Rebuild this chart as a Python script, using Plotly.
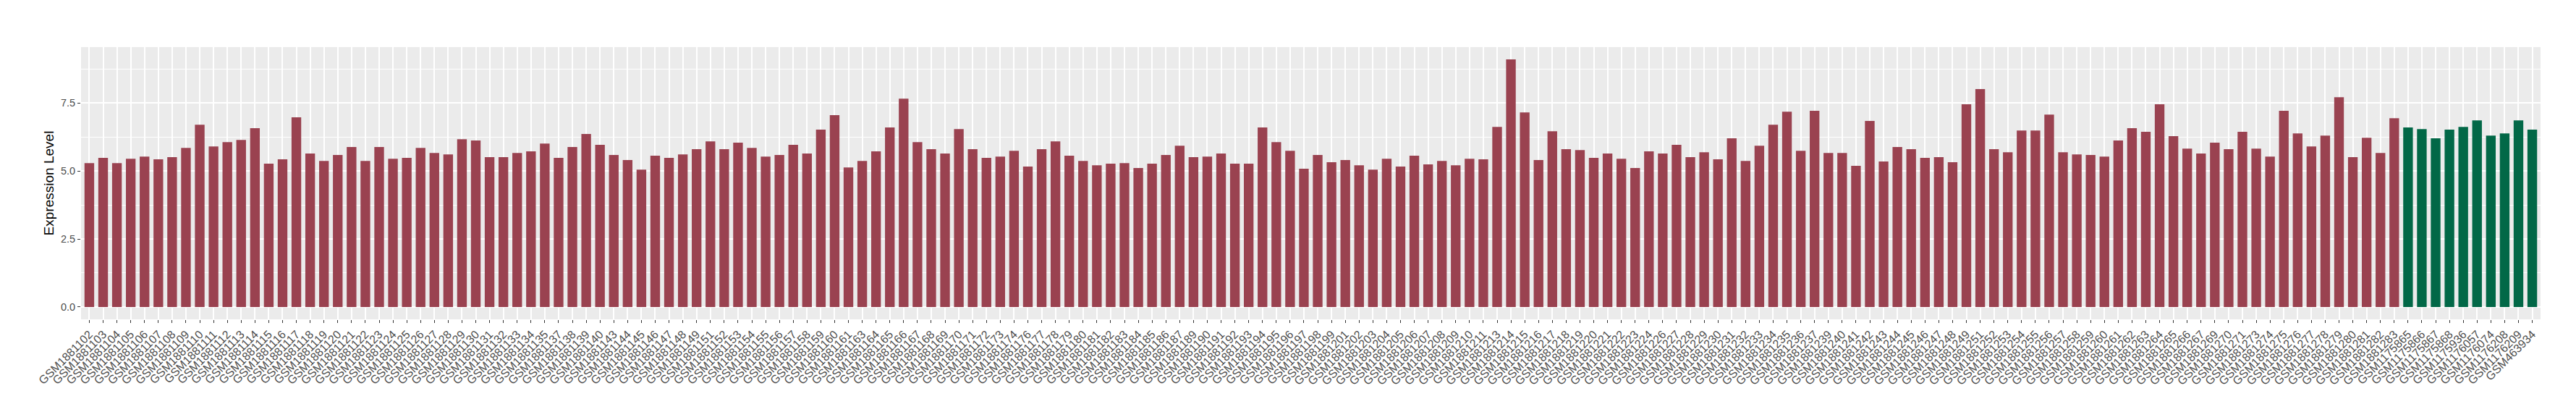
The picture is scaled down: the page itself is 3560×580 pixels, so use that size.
import plotly.graph_objects as go

# sample ids along the x axis (left to right)
samples = [
    "GSM1881102", "GSM1881103", "GSM1881104", "GSM1881105", "GSM1881106", "GSM1881107", "GSM1881108",
    "GSM1881109", "GSM1881110", "GSM1881111", "GSM1881112", "GSM1881113", "GSM1881114", "GSM1881115",
    "GSM1881116", "GSM1881117", "GSM1881118", "GSM1881119", "GSM1881120", "GSM1881121", "GSM1881122",
    "GSM1881123", "GSM1881124", "GSM1881125", "GSM1881126", "GSM1881127", "GSM1881128", "GSM1881129",
    "GSM1881130", "GSM1881131", "GSM1881132", "GSM1881133", "GSM1881134", "GSM1881135", "GSM1881137",
    "GSM1881138", "GSM1881139", "GSM1881140", "GSM1881143", "GSM1881144", "GSM1881145", "GSM1881146",
    "GSM1881147", "GSM1881148", "GSM1881149", "GSM1881151", "GSM1881152", "GSM1881153", "GSM1881154",
    "GSM1881155", "GSM1881156", "GSM1881157", "GSM1881158", "GSM1881159", "GSM1881160", "GSM1881161",
    "GSM1881163", "GSM1881164", "GSM1881165", "GSM1881166", "GSM1881167", "GSM1881168", "GSM1881169",
    "GSM1881170", "GSM1881171", "GSM1881172", "GSM1881173", "GSM1881174", "GSM1881176", "GSM1881177",
    "GSM1881178", "GSM1881179", "GSM1881180", "GSM1881181", "GSM1881182", "GSM1881183", "GSM1881184",
    "GSM1881185", "GSM1881186", "GSM1881187", "GSM1881189", "GSM1881190", "GSM1881191", "GSM1881192",
    "GSM1881193", "GSM1881194", "GSM1881195", "GSM1881196", "GSM1881197", "GSM1881198", "GSM1881199",
    "GSM1881201", "GSM1881202", "GSM1881203", "GSM1881204", "GSM1881205", "GSM1881206", "GSM1881207",
    "GSM1881208", "GSM1881209", "GSM1881210", "GSM1881211", "GSM1881213", "GSM1881214", "GSM1881215",
    "GSM1881216", "GSM1881217", "GSM1881218", "GSM1881219", "GSM1881220", "GSM1881221", "GSM1881222",
    "GSM1881223", "GSM1881224", "GSM1881226", "GSM1881227", "GSM1881228", "GSM1881229", "GSM1881230",
    "GSM1881231", "GSM1881232", "GSM1881233", "GSM1881234", "GSM1881235", "GSM1881236", "GSM1881237",
    "GSM1881239", "GSM1881240", "GSM1881241", "GSM1881242", "GSM1881243", "GSM1881244", "GSM1881245",
    "GSM1881246", "GSM1881247", "GSM1881248", "GSM1881249", "GSM1881251", "GSM1881252", "GSM1881253",
    "GSM1881254", "GSM1881255", "GSM1881256", "GSM1881257", "GSM1881258", "GSM1881259", "GSM1881260",
    "GSM1881261", "GSM1881262", "GSM1881263", "GSM1881264", "GSM1881265", "GSM1881266", "GSM1881267",
    "GSM1881269", "GSM1881270", "GSM1881271", "GSM1881273", "GSM1881274", "GSM1881275", "GSM1881276",
    "GSM1881277", "GSM1881278", "GSM1881279", "GSM1881280", "GSM1881281", "GSM1881282", "GSM1881283",
    "GSM1175865", "GSM1175866", "GSM1175867", "GSM1175868", "GSM1175936", "GSM1176057", "GSM1176074",
    "GSM1176208", "GSM1176209", "GSM463934",
]

expression = [
    5.29, 5.48, 5.29, 5.45, 5.53, 5.43, 5.51, 5.85, 6.70, 5.90, 6.06, 6.14, 6.57, 5.27, 5.43, 6.97,
    5.64, 5.37, 5.59, 5.88, 5.37, 5.88, 5.45, 5.48, 5.85,
    5.66, 5.61, 6.17, 6.12, 5.51, 5.51, 5.66, 5.72, 6.01, 5.48, 5.88, 6.36, 5.96, 5.59, 5.40, 5.05,
    5.56, 5.48, 5.61, 5.80, 6.09, 5.80, 6.04, 5.85, 5.53,
    5.59, 5.96, 5.64, 6.52, 7.05, 5.13, 5.37, 5.72, 6.60, 7.66, 6.06, 5.80, 5.64, 6.54, 5.80, 5.48,
    5.53, 5.74, 5.16, 5.80, 6.09, 5.56, 5.37, 5.21, 5.27, 5.29,
    5.11, 5.27, 5.59, 5.93, 5.51, 5.53, 5.64, 5.27, 5.27, 6.60, 6.06, 5.74, 5.08, 5.59, 5.32, 5.40,
    5.21, 5.05, 5.45, 5.16, 5.56, 5.24, 5.37, 5.21, 5.45,
    5.43, 6.62, 9.10, 7.15, 5.40, 6.46, 5.80, 5.77, 5.48, 5.64, 5.45, 5.11, 5.72, 5.64, 5.96, 5.51,
    5.69, 5.43, 6.20, 5.37, 5.93, 6.70, 7.18, 5.74, 7.21, 5.66,
    5.66, 5.19, 6.84, 5.35, 5.88, 5.80, 5.48, 5.51, 5.32, 7.45, 8.01, 5.80, 5.69, 6.49, 6.49, 7.07,
    5.69, 5.61, 5.59, 5.53, 6.12, 6.57, 6.44, 7.45, 6.28,
    5.82, 5.64, 6.04, 5.80, 6.44, 5.82, 5.53, 7.21, 6.38, 5.90, 6.30, 7.71, 5.51, 6.22, 5.66, 6.94,
    6.60, 6.54, 6.20, 6.52, 6.62, 6.86, 6.30, 6.38, 6.86, 6.52,
]

# group of each sample: the first 168 are one group, the last 10 the other
groups = ["A"] * 168 + ["B"] * 10
group_colors = {"A": "#9A4250", "B": "#026847"}

y_ticks = [0, 2.5, 5, 7.5]
y_tick_text = ["0.0", "2.5", "5.0", "7.5"]
y_minor = [1.25, 3.75, 6.25, 8.75]

fig = go.Figure(go.Bar(
    x=samples,
    y=expression,
    width=0.7,
    marker=dict(color=[group_colors[g] for g in groups], line=dict(width=0)),
    showlegend=False,
))

ymax = max(expression)
fig.update_layout(
    width=3560,
    height=580,
    paper_bgcolor="white",
    plot_bgcolor="#EBEBEB",
    margin=dict(l=104, r=57, t=57, b=147, autoexpand=False),
    font=dict(family="Liberation Sans, Arial, sans-serif", color="#4D4D4D"),
    xaxis=dict(
        type="category",
        categoryorder="array",
        categoryarray=samples,
        tickmode="array",
        tickvals=samples,
        ticktext=samples,
        tickangle=-45,
        tickfont=dict(size=16, color="#4D4D4D"),
        ticks="outside",
        ticklen=4,
        tickwidth=1,
        tickcolor="#333333",
        showgrid=True,
        gridcolor="white",
        gridwidth=1.5,
        range=[-0.6, len(samples) - 0.4],
        zeroline=False,
        showline=False,
        automargin=False,
    ),
    yaxis=dict(
        title=dict(text="Expression Level", font=dict(size=19, color="black"), standoff=4),
        tickmode="array",
        tickvals=y_ticks,
        ticktext=y_tick_text,
        tickfont=dict(size=14.5, color="#4D4D4D"),
        ticks="outside",
        ticklen=4,
        tickwidth=1,
        tickcolor="#333333",
        showgrid=True,
        gridcolor="white",
        gridwidth=1.5,
        minor=dict(tickmode="array", tickvals=y_minor,
                   showgrid=True, gridcolor="white", gridwidth=0.75, ticks=""),
        range=[-0.05 * ymax, 1.05 * ymax],
        zeroline=False,
        showline=False,
        automargin=False,
    ),
)

fig.write_html("out.html")
